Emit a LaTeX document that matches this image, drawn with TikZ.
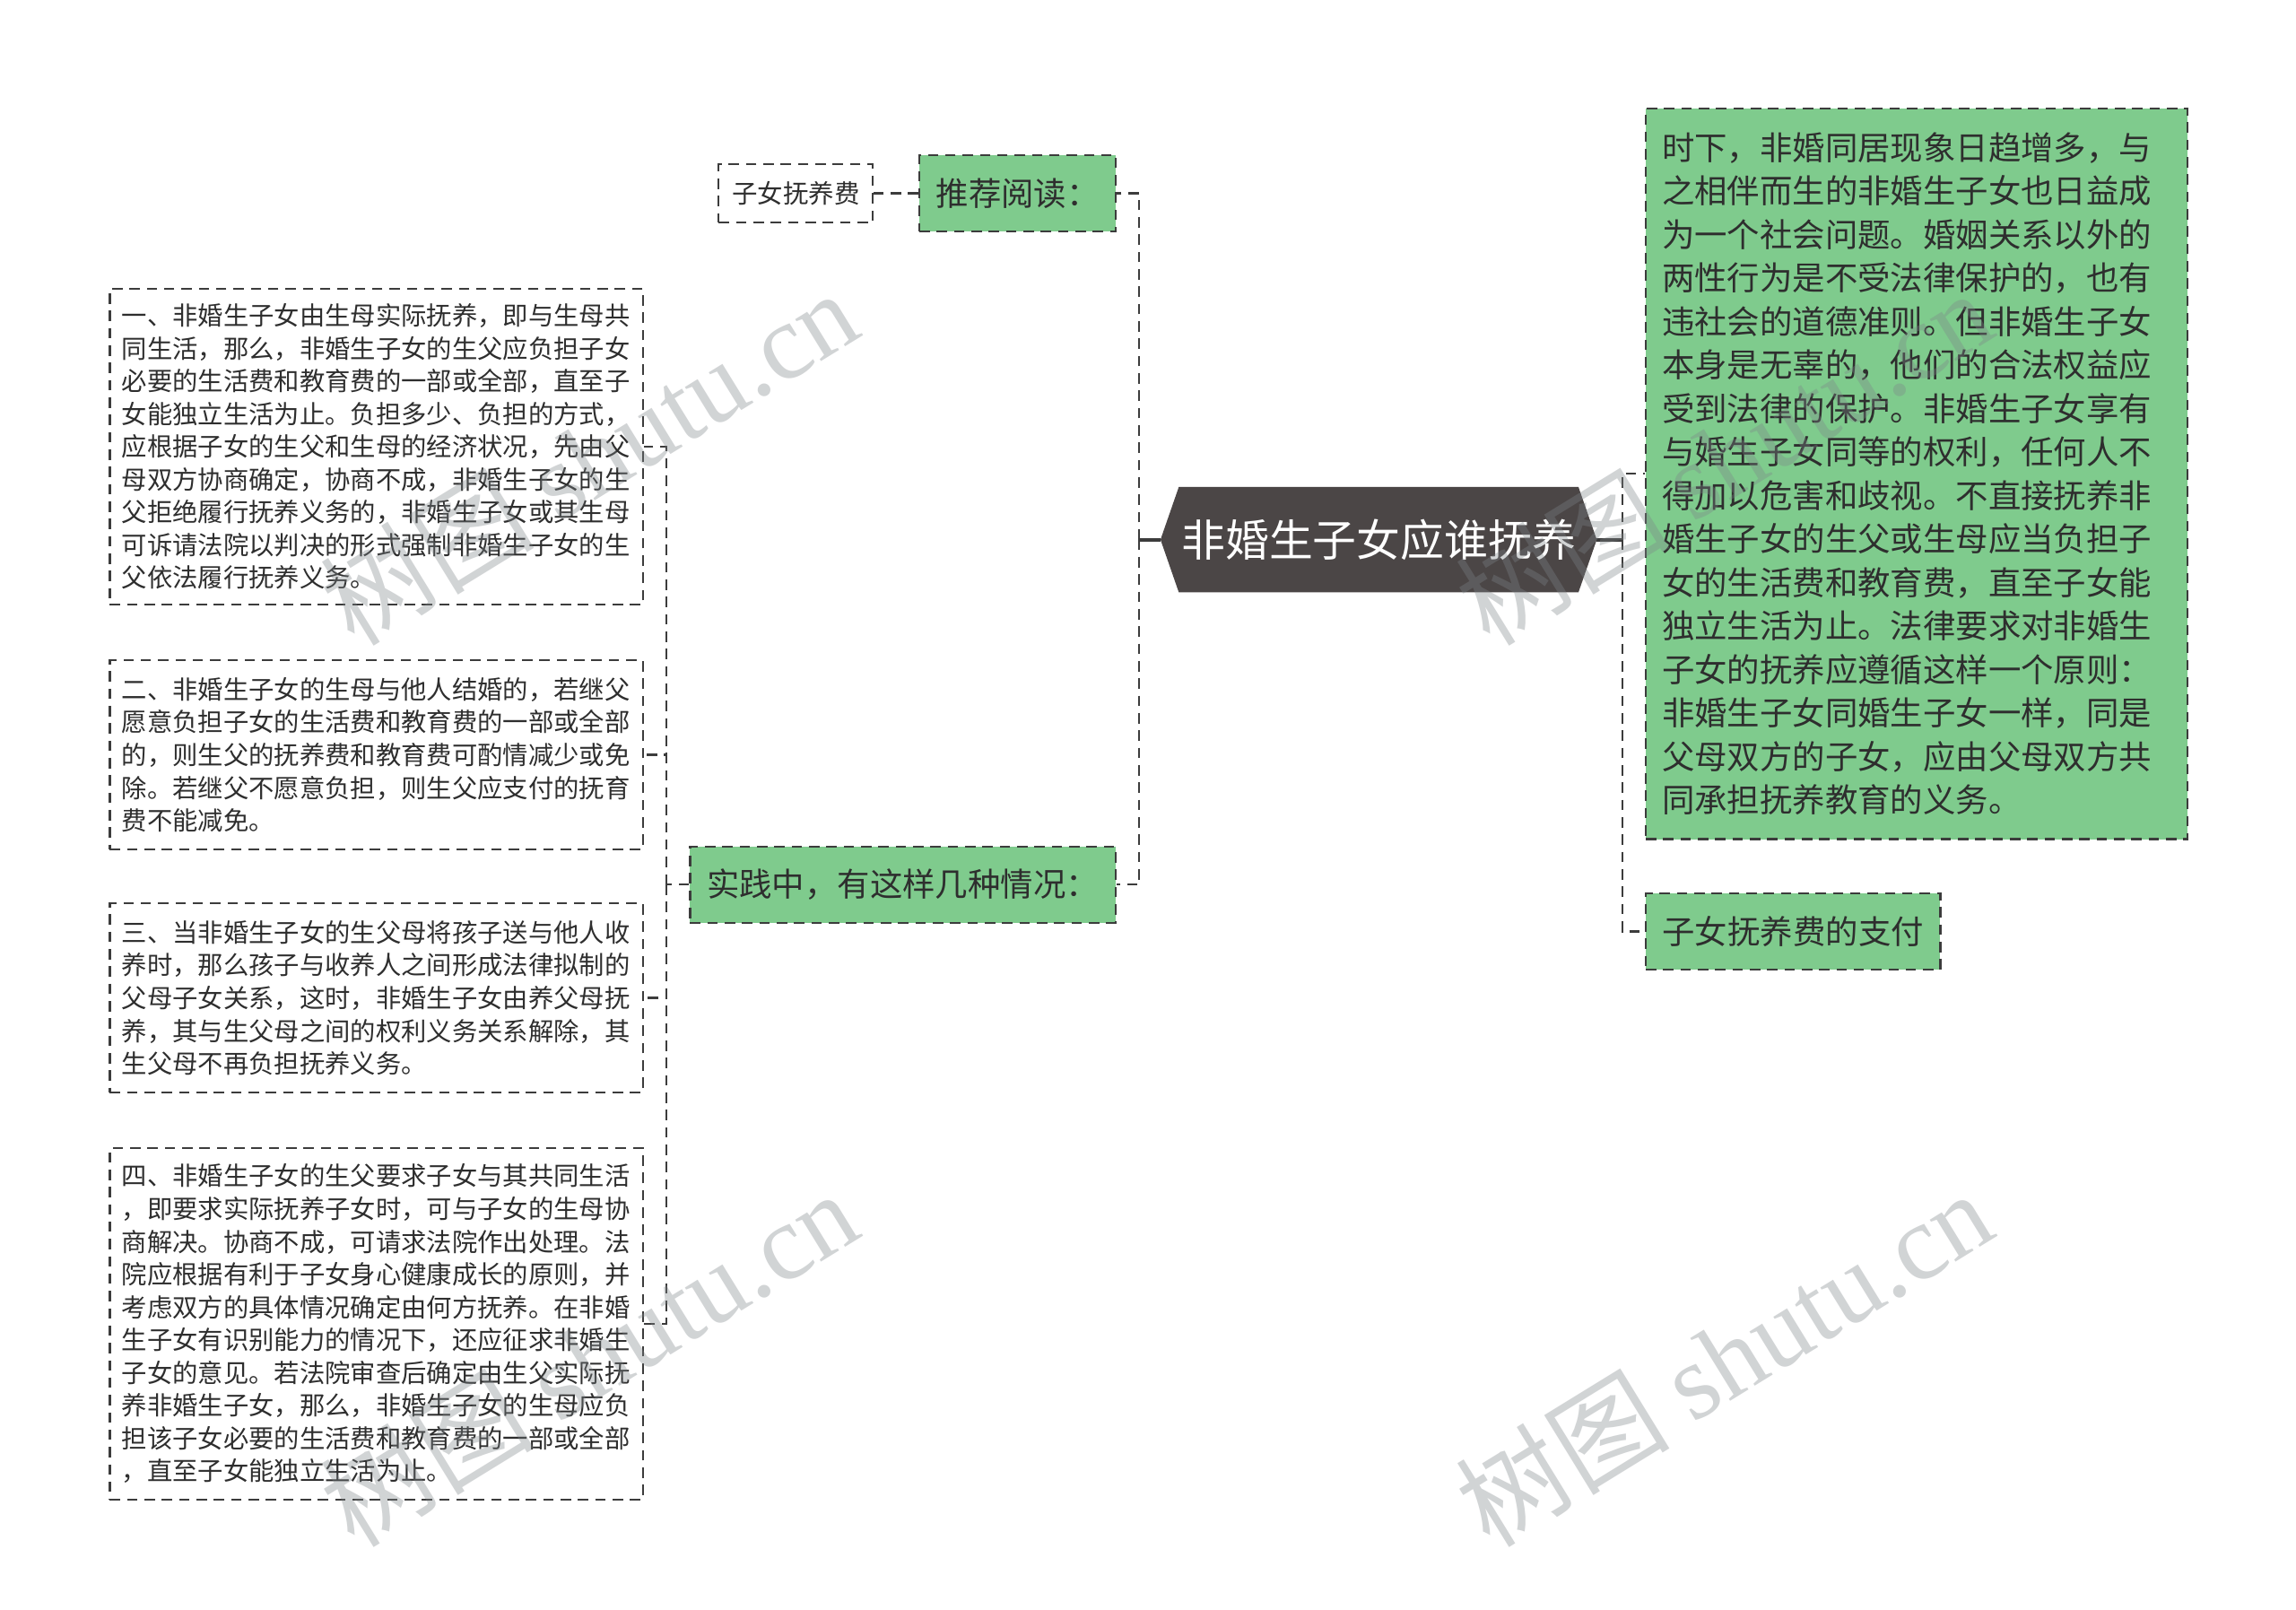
\documentclass[tikz,border=0pt]{standalone}
\usepackage{fontspec}
\setmainfont{Noto Sans CJK SC}
\newfontfamily\markfont{Liberation Serif}
\usetikzlibrary{positioning,backgrounds}
\definecolor{leafgreen}{HTML}{7FCB8D}
\definecolor{hubgray}{HTML}{4B4646}
\definecolor{linegray}{HTML}{3C3C3C}
\definecolor{textgray}{HTML}{2E2E2E}
\definecolor{markgray}{HTML}{7E8488}
\tikzset{
dashline/.style={draw=linegray, line width=0.7pt, dash pattern=on 3.3pt off 2.2pt},
hubline/.style={draw=linegray, line width=1.1pt},
casenode/.style={rectangle, draw=linegray, line width=0.6pt, dash pattern=on 3.3pt off 2.2pt, fill=white, text=textgray,
                 font=\fontsize{8.06}{10.4}\selectfont, align=left, text width=161.5pt, inner xsep=3.8pt, minimum width=169.1pt},
greennode/.style={rectangle, draw=linegray, line width=0.6pt, dash pattern=on 3.3pt off 2.2pt, fill=leafgreen, text=textgray,
                 font=\fontsize{10.36}{13.8}\selectfont, inner xsep=5.3pt, minimum height=24.2pt},
tagnode/.style={rectangle, draw=linegray, line width=0.6pt, dash pattern=on 3.3pt off 2.2pt, fill=white, text=textgray,
                 font=\fontsize{8.1}{10}\selectfont, inner xsep=4.2pt, minimum height=18.6pt},
hubnode/.style={rectangle, text=white, font=\fontsize{13.9}{16}\selectfont, minimum width=138pt, minimum height=33pt},
watermark/.style={text=markgray, text opacity=0.35, font=\fontsize{34}{40}\selectfont, rotate=31.6}
}
\begin{document}
\begin{tikzpicture}[x=0.46455pt, y=-0.46455pt]
\useasboundingbox (0,0) rectangle (1568,1099);

%Mind map nodes
\node[hubnode] (hub) at(941.5,368.5) {非婚生子女应谁抚养};
\begin{scope}[on background layer]
\fill[white] (0,0) rectangle (1568,1099);
\fill[hubgray] (hub.west) -- ([xshift=5.8pt]hub.north west) -- ([xshift=-5.8pt]hub.north east) -- (hub.east)
  -- ([xshift=-5.8pt]hub.south east) -- ([xshift=5.8pt]hub.south west) -- cycle;
\end{scope}

\node[greennode] (reading) at(695,132) {推荐阅读：};
\node[tagnode] (support) at(543.5,132) {子女抚养费};
\node[greennode] (practice) at(616.5,604) {实践中，有这样几种情况：};

\node[casenode, minimum height=100.3pt] (caseone) at(257,305) {一、非婚生子女由生母实际抚养，即与生母共\\同生活，那么，非婚生子女的生父应负担子女\\必要的生活费和教育费的一部或全部，直至子\\女能独立生活为止。负担多少、负担的方式，\\应根据子女的生父和生母的经济状况，先由父\\母双方协商确定，协商不成，非婚生子女的生\\父拒绝履行抚养义务的，非婚生子女或其生母\\可诉请法院以判决的形式强制非婚生子女的生\\父依法履行抚养义务。};
\node[casenode, minimum height=59.9pt] (casetwo) at(257,515.5) {二、非婚生子女的生母与他人结婚的，若继父\\愿意负担子女的生活费和教育费的一部或全部\\的，则生父的抚养费和教育费可酌情减少或免\\除。若继父不愿意负担，则生父应支付的抚育\\费不能减免。};
\node[casenode, minimum height=59.9pt] (casethree) at(257,681.5) {三、当非婚生子女的生父母将孩子送与他人收\\养时，那么孩子与收养人之间形成法律拟制的\\父母子女关系，这时，非婚生子女由养父母抚\\养，其与生父母之间的权利义务关系解除，其\\生父母不再负担抚养义务。};
\node[casenode, minimum height=111.5pt] (casefour) at(257,904) {四、非婚生子女的生父要求子女与其共同生活\\，即要求实际抚养子女时，可与子女的生母协\\商解决。协商不成，可请求法院作出处理。法\\院应根据有利于子女身心健康成长的原则，并\\考虑双方的具体情况确定由何方抚养。在非婚\\生子女有识别能力的情况下，还应征求非婚生\\子女的意见。若法院审查后确定由生父实际抚\\养非婚生子女，那么，非婚生子女的生母应负\\担该子女必要的生活费和教育费的一部或全部\\，直至子女能独立生活为止。};

\node[greennode, align=left, text width=161.7pt, inner xsep=5.1pt, minimum height=231.8pt] (intro) at(1309,323.5) {时下，非婚同居现象日趋增多，与\\之相伴而生的非婚生子女也日益成\\为一个社会问题。婚姻关系以外的\\两性行为是不受法律保护的，也有\\违社会的道德准则。但非婚生子女\\本身是无辜的，他们的合法权益应\\受到法律的保护。非婚生子女享有\\与婚生子女同等的权利，任何人不\\得加以危害和歧视。不直接抚养非\\婚生子女的生父或生母应当负担子\\女的生活费和教育费，直至子女能\\独立生活为止。法律要求对非婚生\\子女的抚养应遵循这样一个原则：\\非婚生子女同婚生子女一样，同是\\父母双方的子女，应由父母双方共\\同承担抚养教育的义务。};
\node[greennode] (payment) at(1224.5,636) {子女抚养费的支付};

%Connectors
\coordinate (hubleft) at(778,368.5);
\coordinate (hubright) at(1108,368.5);
\coordinate (caseroot) at(455,604);

\draw[hubline] (hub.west) -- (hubleft);
\draw[hubline] (hub.east) -- (hubright);
\draw[dashline] (hubleft) |- (reading.east);
\draw[dashline] (hubleft) |- (practice.east);
\draw[dashline] (hubright) |- (intro.west);
\draw[dashline] (hubright) |- (payment.west);
\draw[dashline] (reading.west) -- (support.east);
\draw[dashline] (practice.west) -- (caseroot);
\draw[dashline] (caseroot) |- (caseone.east);
\draw[dashline] (caseroot) |- (casetwo.east);
\draw[dashline] (caseroot) |- (casethree.east);
\draw[dashline] (caseroot) |- (casefour.east);

%Watermarks
\node[watermark] (markone) at(402,312) {树图 {\markfont shutu.cn}};
\node[watermark] (marktwo) at(1177,312) {树图 {\markfont shutu.cn}};
\node[watermark] (markthree) at(402,927) {树图 {\markfont shutu.cn}};
\node[watermark] (markfour) at(1177,927) {树图 {\markfont shutu.cn}};
\end{tikzpicture}
\end{document}
